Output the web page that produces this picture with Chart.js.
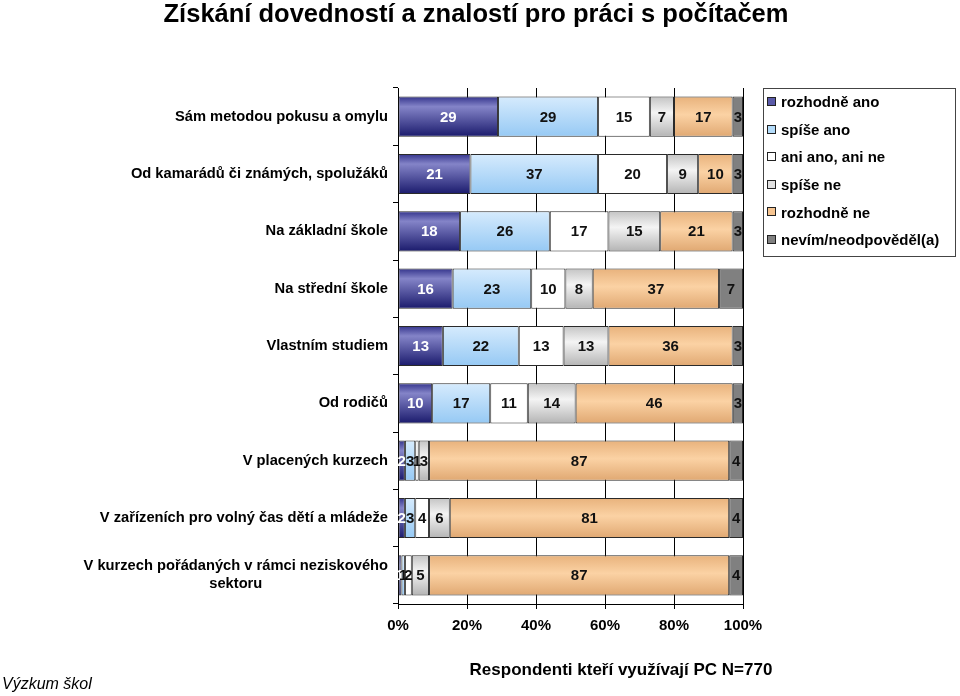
<!DOCTYPE html>
<html>
<head>
<meta charset="utf-8">
<script src="https://cdn.jsdelivr.net/npm/chart.js@4/dist/chart.umd.min.js"></script>
<style>
  html, body { margin: 0; padding: 0; background: #fff; }
  canvas { display: block; }
</style>
</head>
<body>
<canvas id="skillsChart" width="960" height="696"></canvas>
<script>
// Data
const categories = [
    'Sám metodou pokusu a omylu',
    'Od kamarádů či známých, spolužáků',
    'Na základní škole',
    'Na střední škole',
    'Vlastním studiem',
    'Od rodičů',
    'V placených kurzech',
    'V zařízeních pro volný čas dětí a mládeže',
    ['V kurzech pořádaných v rámci neziskového', 'sektoru']
];
const seriesNames = ['rozhodně ano', 'spíše ano', 'ani ano, ani ne', 'spíše ne', 'rozhodně ne', 'nevím/neodpověděl(a)'];
const rozhodneAno = [29, 21, 18, 16, 13, 10, 2, 2, 1];
const spiseAno    = [29, 37, 26, 23, 22, 17, 3, 3, 1];
const aniAniNe    = [15, 20, 17, 10, 13, 11, 1, 4, 2];
const spiseNe     = [7, 9, 15, 8, 13, 14, 3, 6, 5];
const rozhodneNe  = [17, 10, 21, 37, 36, 46, 87, 81, 87];
const nevim       = [3, 3, 3, 7, 3, 3, 4, 4, 4];
const xTicks = [0, 20, 40, 60, 80, 100];

const FONT = 'Liberation Sans, Arial, sans-serif';
const series = [rozhodneAno, spiseAno, aniAniNe, spiseNe, rozhodneNe, nevim];
const totals = categories.map((_, i) => series.reduce((s, arr) => s + arr[i], 0));

// vertical gradient across each bar, like the old Excel fill
function barFill(stops, flat) {
    return function (c) {
        const y = c.chart.scales.y;
        if (!y || c.dataIndex === undefined) return flat;
        const step = (y.bottom - y.top) / categories.length;
        const h = step * 0.7;
        const cy = y.getPixelForValue(c.dataIndex);
        if (!isFinite(cy)) return flat;
        const g = c.chart.ctx.createLinearGradient(0, cy - h / 2, 0, cy + h / 2);
        stops.forEach(s => g.addColorStop(s[0], s[1]));
        return g;
    };
}

const fills = [
    barFill([[0, '#34348c'], [0.25, '#8484c8'], [1, '#1a1a6c']], '#5a5aa8'),
    barFill([[0, '#d6ebfd'], [1, '#96c9f4']], '#b4dcfa'),
    '#ffffff',
    barFill([[0, '#c4c4c4'], [0.4, '#f4f4f4'], [1, '#b4b4b4']], '#e0e0e0'),
    barFill([[0, '#e8b27c'], [0.45, '#fbd2a4'], [1, '#e0a872']], '#f6c490'),
    '#808080'
];
const legendColors = ['#5a5aa8', '#b4dcfa', '#ffffff', '#e0e0e0', '#f6c490', '#808080'];

const datasets = series.map((arr, k) => ({
    label: seriesNames[k],
    data: arr.map((v, i) => v / totals[i] * 100),
    raw: arr,
    backgroundColor: fills[k],
    borderColor: '#2a2a2a',
    borderWidth: 1,
    borderSkipped: false,
    categoryPercentage: 0.7,
    barPercentage: 1
}));

const textPlugin = {
    id: 'texts',
    afterDatasetsDraw(chart) {
        const ctx = chart.ctx;
        ctx.save();
        ctx.font = 'bold 15px ' + FONT;
        ctx.textAlign = 'center';
        ctx.textBaseline = 'middle';
        chart.data.datasets.forEach((ds, k) => {
            chart.getDatasetMeta(k).data.forEach((el, i) => {
                ctx.fillStyle = k === 0 ? '#ffffff' : '#111111';
                ctx.fillText(String(ds.raw[i]), (el.x + el.base) / 2, el.y + 1);
            });
        });
        ctx.restore();
    },
    afterDraw(chart) {
        const ctx = chart.ctx;
        const area = chart.chartArea;
        const y = chart.scales.y;
        ctx.save();
        ctx.fillStyle = '#000';
        ctx.textBaseline = 'middle';

        // title
        ctx.font = 'bold 25.5px ' + FONT;
        ctx.textAlign = 'center';
        ctx.fillText('Získání dovedností a znalostí pro práci s počítačem', 476, 15);

        // category labels
        ctx.font = 'bold 14.7px ' + FONT;
        categories.forEach((lab, i) => {
            const cy = y.getPixelForValue(i);
            const lines = Array.isArray(lab) ? lab : [lab];
            const w = ctx.measureText(lines[0]).width;
            const right = area.left - 10;
            lines.forEach((ln, j) => {
                const ly = cy + (j - (lines.length - 1) / 2) * 18;
                if (lines.length > 1) {
                    ctx.textAlign = 'center';
                    ctx.fillText(ln, right - w / 2, ly);
                } else {
                    ctx.textAlign = 'right';
                    ctx.fillText(ln, right, ly);
                }
            });
        });

        // legend
        const lx = 763, ly = 88, lw = 192, lh = 168;
        ctx.strokeStyle = '#444';
        ctx.lineWidth = 1;
        ctx.strokeRect(lx + 0.5, ly + 0.5, lw, lh);
        ctx.textAlign = 'left';
        ctx.font = 'bold 15px ' + FONT;
        seriesNames.forEach((name, k) => {
            const iy = 102 + k * 27.6;
            ctx.fillStyle = legendColors[k];
            ctx.fillRect(767, Math.round(iy - 5), 9, 9);
            ctx.strokeStyle = '#222';
            ctx.strokeRect(767.5, Math.round(iy - 5) + 0.5, 8, 8);
            ctx.fillStyle = '#000';
            ctx.fillText(name, 781, iy + 1);
        });

        // footer texts
        ctx.font = 'bold 17px ' + FONT;
        ctx.textAlign = 'center';
        ctx.fillText('Respondenti kteří využívají PC N=770', 621, 670);
        ctx.font = 'italic 16px ' + FONT;
        ctx.textAlign = 'left';
        ctx.fillText('Výzkum škol', 2, 685);
        ctx.restore();
    }
};

new Chart(document.getElementById('skillsChart').getContext('2d'), {
    type: 'bar',
    data: { labels: categories, datasets: datasets },
    options: {
        indexAxis: 'y',
        responsive: false,
        animation: false,
        layout: { padding: { left: 0, right: 217, top: 88, bottom: 47 } },
        scales: {
            x: {
                stacked: true,
                min: 0,
                max: 100,
                afterBuildTicks: s => { s.ticks = xTicks.map(v => ({ value: v })); },
                afterFit: s => { s.height = 45; },
                ticks: {
                    callback: v => v + '%',
                    font: { family: FONT, size: 15, weight: 'bold' },
                    color: '#000',
                    padding: 8,
                    maxRotation: 0
                },
                grid: { color: '#000', lineWidth: 1, tickLength: 5 },
                border: { display: true, color: '#000', width: 1 }
            },
            y: {
                stacked: true,
                afterFit: s => { s.width = 398; },
                ticks: { display: false },
                grid: { drawOnChartArea: false, offset: true, tickLength: 5, color: '#000' },
                border: { display: true, color: '#000', width: 1 }
            }
        },
        plugins: {
            legend: { display: false },
            title: { display: false },
            tooltip: { enabled: false }
        }
    },
    plugins: [textPlugin]
});
</script>
</body>
</html>
